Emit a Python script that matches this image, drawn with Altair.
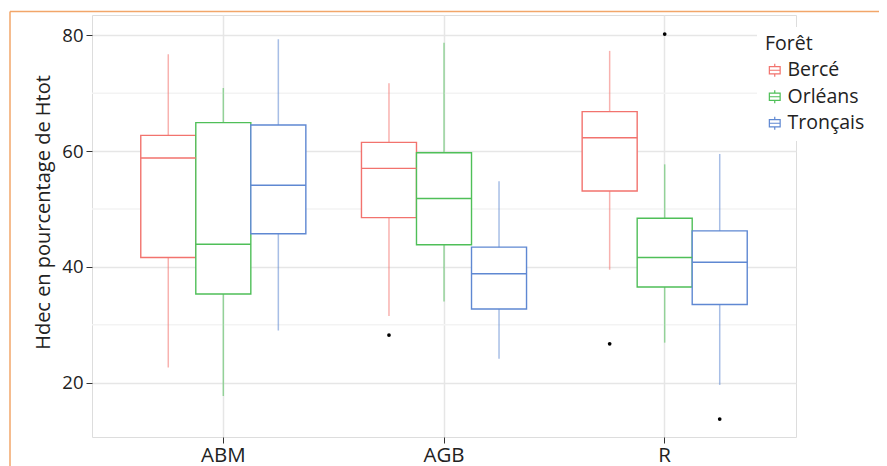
import altair as alt
import pandas as pd

categories = ["ABM", "AGB", "R"]
forests = ["Bercé", "Orléans", "Tronçais"]
colors = ["#F2736E", "#4FBF58", "#5F88D2"]

whisker_low = {"Bercé": [22.6, 31.5, 39.5], "Orléans": [17.7, 34.0, 26.9], "Tronçais": [29.0, 24.1, 19.6]}
q1 = {"Bercé": [41.6, 48.5, 53.1], "Orléans": [35.3, 43.8, 36.5], "Tronçais": [45.7, 32.7, 33.5]}
median = {"Bercé": [58.8, 57.0, 62.3], "Orléans": [43.9, 51.8, 41.6], "Tronçais": [54.1, 38.8, 40.8]}
q3 = {"Bercé": [62.7, 61.5, 66.8], "Orléans": [64.9, 59.7, 48.4], "Tronçais": [64.5, 43.4, 46.2]}
whisker_high = {"Bercé": [76.7, 71.7, 77.3], "Orléans": [70.9, 78.7, 57.7], "Tronçais": [79.3, 54.8, 59.5]}

outlier_category = ["AGB", "R", "R", "R"]
outlier_forest = ["Bercé", "Bercé", "Orléans", "Tronçais"]
outlier_value = [28.2, 26.7, 80.2, 13.7]

major_ticks = [20, 40, 60, 80]
minor_grid = [30, 50, 70]

rows = []
for f in forests:
    for i, c in enumerate(categories):
        rows.append({"cat": c, "forest": f, "lo": whisker_low[f][i], "q1": q1[f][i],
                     "med": median[f][i], "q3": q3[f][i], "hi": whisker_high[f][i]})
box_df = pd.DataFrame(rows)
out_df = pd.DataFrame({"cat": outlier_category, "forest": outlier_forest, "v": outlier_value})
minor_df = pd.DataFrame({"v": minor_grid})

FONT = "Open Sans"
ydom = [10.6, 83.5]
yscale = alt.Scale(domain=ydom, nice=False, zero=False)
color_scale = alt.Scale(domain=forests, range=colors)

x_enc = alt.X("cat:N", sort=categories,
              scale=alt.Scale(paddingInner=0.252, paddingOuter=0.221),
              axis=alt.Axis(title=None, labelAngle=0, labelFontSize=20.5, labelColor="#222",
                            tickColor="#333", tickSize=6, domain=False, grid=True,
                            gridColor="#e6e6e6", gridWidth=1.5, labelPadding=2))
xo_enc = alt.XOffset("forest:N", sort=forests, scale=alt.Scale(paddingInner=0, paddingOuter=0))

sym_path = "M-0.9,-0.6H0.9V0.6H-0.9Z M-0.9,0H0.9 M0,-0.6V-1.1 M0,0.6V1.1"

stroke_legend = alt.Legend(title="Forêt", orient="none", legendX=665, legendY=12,
                           fillColor="white", padding=8, symbolType=sym_path, symbolSize=144,
                           symbolStrokeWidth=1.2, symbolFillColor="white",
                           labelFontSize=19.5, titleFontSize=19.5, titleFontWeight="normal",
                           labelColor="#222", titleColor="#222", rowPadding=5.5, labelOffset=3,
                           titlePadding=6, labelFont=FONT, titleFont=FONT)

minor = alt.Chart(minor_df).mark_rule(color="#f3f3f3", strokeWidth=1.5).encode(
    y=alt.Y("v:Q", scale=yscale)
)

whisk = alt.Chart(box_df).mark_rule(strokeWidth=1.5, strokeOpacity=0.55).encode(
    x=x_enc, xOffset=xo_enc,
    y=alt.Y("lo:Q", scale=yscale,
            axis=alt.Axis(title="Hdec en pourcentage de Htot", values=major_ticks,
                          labelFontSize=18.5, titleFontSize=20, titleFontWeight="normal",
                          labelColor="#222", titleColor="#222", tickColor="#333", tickSize=6,
                          domain=False, gridColor="#e6e6e6", gridWidth=1.5, titlePadding=8,
                          labelPadding=3, titleY=197)),
    y2="hi:Q",
    stroke=alt.Stroke("forest:N", scale=color_scale, legend=stroke_legend),
)

box = alt.Chart(box_df).mark_bar(fill="white", strokeWidth=1.4).encode(
    x=x_enc, xOffset=xo_enc,
    y=alt.Y("q1:Q", scale=yscale), y2="q3:Q",
    stroke=alt.Stroke("forest:N", scale=color_scale, legend=stroke_legend),
)

med = alt.Chart(box_df).mark_bar(fillOpacity=0, strokeWidth=1.4).encode(
    x=x_enc, xOffset=xo_enc,
    y=alt.Y("med:Q", scale=yscale), y2="med:Q",
    stroke=alt.Stroke("forest:N", scale=color_scale, legend=stroke_legend),
)

pts = alt.Chart(out_df).mark_circle(color="black", size=14, opacity=1).encode(
    x=x_enc, xOffset=xo_enc,
    y=alt.Y("v:Q", scale=yscale),
)

frame_data = alt.Data(values=[{}])
frame_left = alt.Chart(frame_data).mark_rule(color="#F2A66A", strokeWidth=1.5, clip=False).encode(
    x=alt.value(-82), y=alt.value(-3.5), y2=alt.value(460))
frame_top = alt.Chart(frame_data).mark_rule(color="#F2A66A", strokeWidth=1.5, clip=False).encode(
    x=alt.value(-82), x2=alt.value(800), y=alt.value(-3.5))

chart = alt.layer(minor, whisk, box, med, pts, frame_left, frame_top).properties(
    width=704, height=422,
    padding={"left": 84, "top": 7, "right": 83, "bottom": 29},
    autosize=alt.AutoSizeParams(type="none"),
).configure_view(stroke="#9f9f9f", strokeWidth=1.5).configure(
    font=FONT, background="white"
)

chart.save("out.html", embed_options={"renderer": "svg", "actions": False})
